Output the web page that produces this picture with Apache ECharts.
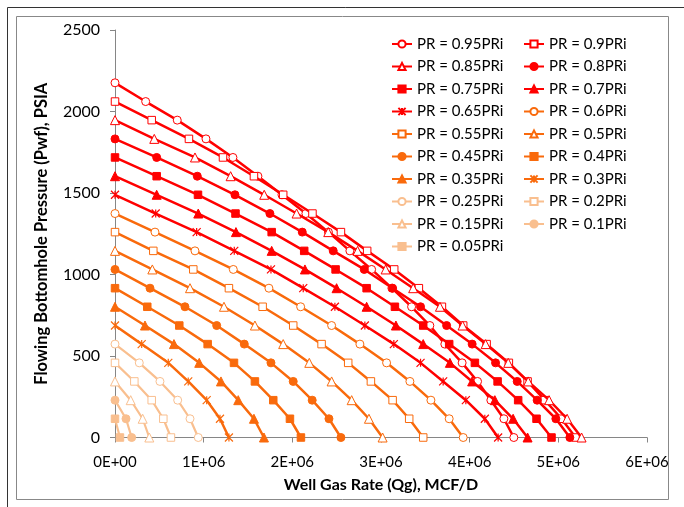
<!DOCTYPE html>
<html>
<head>
<meta charset="utf-8">
<script src="https://cdn.jsdelivr.net/npm/echarts@6/dist/echarts.min.js"></script>
<style>
  html, body { margin: 0; padding: 0; background: #fff; }
  #chart { width: 684px; height: 507px; }
</style>
</head>
<body>
<div id="chart"></div>
<script>
// Flowing bottomhole pressure steps (PSIA), shared by every curve
const pwfLevels = [0, 115, 229, 344, 458, 573, 687, 802, 916, 1031, 1145, 1260, 1374, 1489, 1603, 1718, 1832, 1947, 2061, 2176];

// Gas rate (MCF/D) for each reservoir pressure, from Pwf = PR down to Pwf = 0
const qg95 = [0, 346000, 702000, 1026000, 1330000, 1612000, 1883000, 2153000, 2407000, 2649000, 2894000, 3123000, 3345000, 3551000, 3720000, 3915000, 4089000, 4239000, 4386000, 4498000];
const qg90 = [0, 414000, 834000, 1218000, 1567000, 1897000, 2227000, 2548000, 2844000, 3149000, 3427000, 3687000, 3927000, 4191000, 4442000, 4653000, 4848000, 5036000, 5194000];
const qg85 = [0, 443000, 902000, 1304000, 1683000, 2048000, 2405000, 2736000, 3052000, 3363000, 3665000, 3920000, 4180000, 4435000, 4660000, 4896000, 5099000, 5262000];
const qg80 = [0, 470000, 928000, 1353000, 1747000, 2112000, 2461000, 2811000, 3131000, 3446000, 3740000, 4028000, 4292000, 4536000, 4761000, 4972000, 5130000];
const qg75 = [0, 470000, 936000, 1359000, 1767000, 2134000, 2488000, 2838000, 3157000, 3476000, 3769000, 4059000, 4315000, 4547000, 4754000, 4923000];
const qg70 = [0, 470000, 939000, 1364000, 1767000, 2142000, 2499000, 2838000, 3168000, 3476000, 3777000, 4028000, 4284000, 4490000, 4653000];
const qg65 = [0, 459000, 921000, 1345000, 1759000, 2123000, 2480000, 2818000, 3145000, 3446000, 3701000, 3957000, 4171000, 4321000];
const qg60 = [0, 451000, 902000, 1334000, 1736000, 2094000, 2443000, 2762000, 3063000, 3326000, 3563000, 3769000, 3927000];
const qg55 = [0, 432000, 883000, 1285000, 1665000, 2010000, 2330000, 2630000, 2886000, 3131000, 3318000, 3476000];
const qg50 = [0, 421000, 846000, 1229000, 1578000, 1897000, 2191000, 2443000, 2669000, 2864000, 3018000];
const qg45 = [0, 395000, 789000, 1147000, 1458000, 1759000, 2010000, 2224000, 2413000, 2548000];
const qg40 = [0, 364000, 725000, 1045000, 1342000, 1578000, 1785000, 1973000, 2097000];
const qg35 = [0, 338000, 665000, 950000, 1195000, 1390000, 1567000, 1680000];
const qg30 = [0, 301000, 601000, 826000, 1034000, 1184000, 1285000];
const qg25 = [0, 274000, 507000, 707000, 846000, 939000];
const qg20 = [0, 218000, 414000, 545000, 631000];
const qg15 = [0, 177000, 312000, 387000];
const qg10 = [0, 124000, 188000];
const qg05 = [0, 56000];

const seriesNames = ['PR = 0.95PRi', 'PR = 0.9PRi', 'PR = 0.85PRi', 'PR = 0.8PRi', 'PR = 0.75PRi',
  'PR = 0.7PRi', 'PR = 0.65PRi', 'PR = 0.6PRi', 'PR = 0.55PRi', 'PR = 0.5PRi', 'PR = 0.45PRi',
  'PR = 0.4PRi', 'PR = 0.35PRi', 'PR = 0.3PRi', 'PR = 0.25PRi', 'PR = 0.2PRi', 'PR = 0.15PRi',
  'PR = 0.1PRi', 'PR = 0.05PRi'];
const rateSets = [qg95, qg90, qg85, qg80, qg75, qg70, qg65, qg60, qg55, qg50, qg45, qg40, qg35, qg30, qg25, qg20, qg15, qg10, qg05];

const RED = '#FF0000', ORANGE = '#F96A0C', PEACH = '#F9BF8F';
const STAR = 'path://M0,0L10,10M10,0L0,10M5,0L5,10';
// marker cycle within each colour group: open circle, open square, open triangle, dot, square, triangle, star
const markerCycle = [
  { symbol: 'circle', open: true }, { symbol: 'rect', open: true }, { symbol: 'triangle', open: true },
  { symbol: 'circle', open: false }, { symbol: 'rect', open: false }, { symbol: 'triangle', open: false },
  { symbol: STAR, open: true, star: true }
];

function groupColor(i) { return i < 7 ? RED : (i < 14 ? ORANGE : PEACH); }

const series = rateSets.map((q, i) => {
  const m = q.length - 1;
  const color = groupColor(i);
  const mk = markerCycle[i % 7];
  const data = q.map((v, j) => [v, pwfLevels[m - j]]);
  let size = 8;
  if (mk.symbol === 'triangle') size = 9;
  if (mk.symbol === 'rect') size = 7.5;
  return {
    name: seriesNames[i],
    type: 'line',
    data: data,
    symbol: mk.symbol,
    symbolSize: size,
    showAllSymbol: true,
    animation: false,
    lineStyle: { color: color, width: i < 14 ? 2.5 : 2.2 },
    itemStyle: mk.star
      ? { color: 'rgba(0,0,0,0)', borderColor: color, borderWidth: 1.2 }
      : (mk.open
        ? { color: '#ffffff', borderColor: color, borderWidth: 1 }
        : { color: color, borderColor: color, borderWidth: 1 }),
    z: 2 + i * 0.01
  };
});

function sciLabel(v) {
  if (v === 0) return '0E+00';
  const e = Math.floor(Math.log10(v));
  const mant = Math.round(v / Math.pow(10, e));
  return mant + 'E+' + (e < 10 ? '0' + e : e);
}

const FONT = 'Lato, "Open Sans", sans-serif';
const legendBase = {
  orient: 'vertical',
  top: 36,
  padding: 0,
  itemWidth: 20,
  itemHeight: 9,
  itemGap: 6.5,
  textStyle: { fontFamily: FONT, fontSize: 15, color: '#000', lineHeight: 16 },
  selectedMode: false
};

const chart = echarts.init(document.getElementById('chart'), null, { renderer: 'canvas' });
chart.setOption({
  backgroundColor: '#ffffff',
  animation: false,
  grid: { left: 115, top: 30, right: 37, bottom: 69.5, containLabel: false },
  xAxis: {
    type: 'value', min: 0, max: 6000000, interval: 1000000,
    name: 'Well Gas Rate (Qg), MCF/D', nameLocation: 'middle', nameGap: 39,
    nameTextStyle: { fontFamily: FONT, fontSize: 16, fontWeight: 'bold', color: '#000' },
    axisLine: { show: true, lineStyle: { color: '#868686', width: 1 } },
    axisTick: { show: true, inside: false, length: 5, lineStyle: { color: '#868686' } },
    axisLabel: { fontFamily: FONT, fontSize: 15, color: '#000', margin: 17, formatter: sciLabel },
    splitLine: { show: false }
  },
  yAxis: {
    type: 'value', min: 0, max: 2500, interval: 500,
    name: 'Flowing Bottomhole Pressure (Pwf), PSIA', nameLocation: 'middle', nameGap: 65,
    nameTextStyle: { fontFamily: FONT, fontSize: 16.5, fontWeight: 'bold', color: '#000' },
    axisLine: { show: true, lineStyle: { color: '#868686', width: 1 } },
    axisTick: { show: true, inside: false, length: 5, lineStyle: { color: '#868686' } },
    axisLabel: { fontFamily: FONT, fontSize: 16, color: '#000', margin: 15, formatter: v => String(v) },
    splitLine: { show: false }
  },
  legend: [
    Object.assign({}, legendBase, { left: 391, data: seriesNames.filter((_, i) => i % 2 === 0) }),
    Object.assign({}, legendBase, { left: 523, data: seriesNames.filter((_, i) => i % 2 === 1) })
  ],
  graphic: [
    // outer frame edge on the top and left
    { type: 'polyline', shape: { points: [[7.5, 507], [7.5, 7.5], [684, 7.5]] }, style: { fill: 'none', stroke: '#333', lineWidth: 1 }, silent: true },
    // chart area border
    { type: 'rect', shape: { x: 16.5, y: 16.5, width: 652, height: 483 }, style: { fill: 'none', stroke: '#888', lineWidth: 1 }, silent: true }
  ],
  series: series
});
</script>
</body>
</html>
